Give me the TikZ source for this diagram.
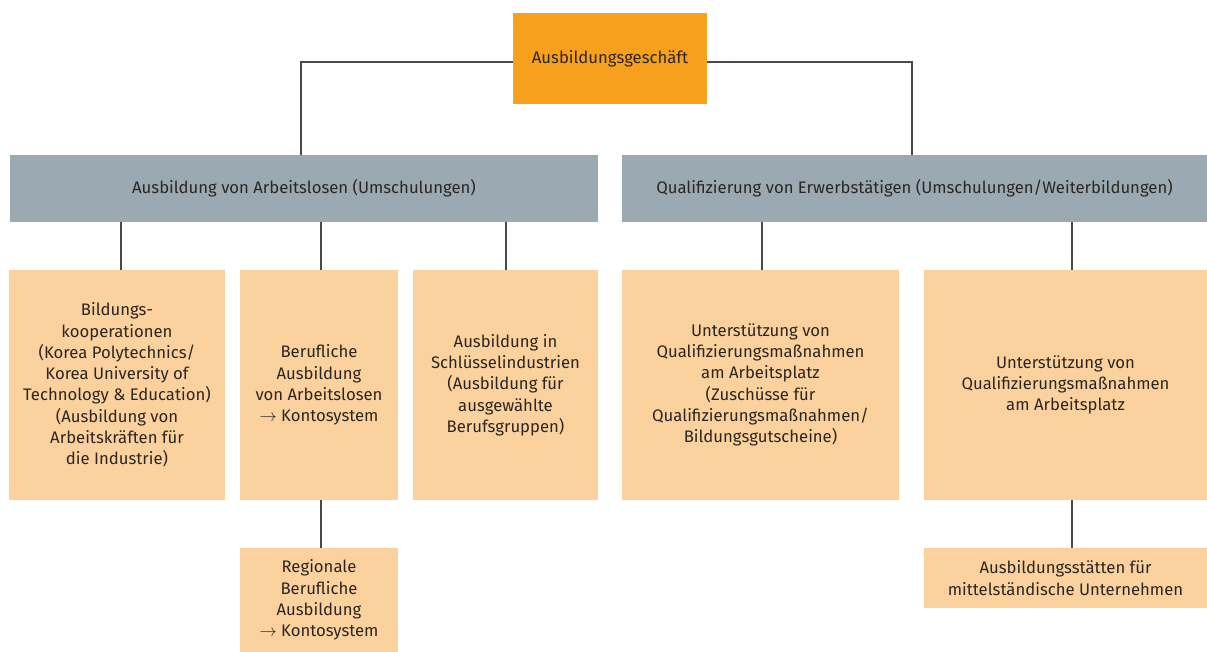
\documentclass[tikz,border=0pt]{standalone}
\usepackage{fontspec}
\setmainfont{Fira Sans}
\usepackage{tikz}

\definecolor{topOrange}{HTML}{F6A01E}
\definecolor{headGrey}{HTML}{9BAAB2}
\definecolor{boxPeach}{HTML}{FBD29E}
\definecolor{lineGrey}{HTML}{4A4A4A}
\definecolor{textDark}{HTML}{2B2622}

\tikzset{
    box/.style={fill=boxPeach, text=textDark, align=center, inner sep=0pt},
    head/.style={fill=headGrey, text=textDark, align=center, inner sep=0pt},
    link/.style={draw=lineGrey, line width=1.3pt}
}
\newcommand{\toarrow}{$\rightarrow$}

\begin{document}
\begin{tikzpicture}[x=1pt, y=-1pt, font=\fontsize{16.7}{21.3}\selectfont]
    \useasboundingbox (0,0) rectangle (1207,652);
    % Top
    \node[fill=topOrange, text=textDark, minimum width=194pt, minimum height=91pt] (Top) at (610,58.5) {Ausbildungsgeschäft};
    % Second Layer
    \node[head, minimum width=588pt, minimum height=67pt] (Head-1) at (304,188.5) {Ausbildung von Arbeitslosen (Umschulungen)};
    \node[head, minimum width=585pt, minimum height=67pt] (Head-2) at (914.5,188.5) {Qualifizierung von Erwerbstätigen (Umschulungen/Weiterbildungen)};
    % Third Layer
    \node[box, minimum width=216pt, minimum height=230pt] (Box-1) at (117,385)
        {Bildungs-\\kooperationen\\(Korea Polytechnics/\\Korea University of\\Technology \& Education)\\(Ausbildung von\\Arbeitskräften für\\die Industrie)};
    \node[box, minimum width=158pt, minimum height=230pt] (Box-2) at (319,385)
        {Berufliche\\Ausbildung\\von Arbeitslosen\\\toarrow{} Kontosystem};
    \node[box, minimum width=185pt, minimum height=230pt] (Box-3) at (505.5,385)
        {Ausbildung in\\Schlüsselindustrien\\(Ausbildung für\\ausgewählte\\Berufsgruppen)};
    \node[box, minimum width=277pt, minimum height=230pt] (Box-4) at (760.5,385)
        {Unterstützung von\\Qualifizierungsmaßnahmen\\am Arbeitsplatz\\(Zuschüsse für\\Qualifizierungsmaßnahmen/\\Bildungsgutscheine)};
    \node[box, minimum width=283pt, minimum height=230pt] (Box-5) at (1065.5,385)
        {Unterstützung von\\Qualifizierungsmaßnahmen\\am Arbeitsplatz};
    % Fourth Layer
    \node[box, minimum width=158pt, minimum height=104pt] (Box-6) at (319,600)
        {Regionale\\Berufliche\\Ausbildung\\\toarrow{} Kontosystem};
    \node[box, minimum width=283pt, minimum height=60pt] (Box-7) at (1065.5,578)
        {Ausbildungsstätten für\\mittelständische Unternehmen};
    % Lines
    \draw[link] ([yshift=-3.5pt]Top.west) -| ([xshift=-3pt]Head-1.north);
    \draw[link] ([yshift=-3.5pt]Top.east) -| ([xshift=-2.5pt]Head-2.north);
    \foreach \i/\dx in {1/4,2/2,3/0.5} {
        \draw[link] ([xshift=\dx pt]Box-\i.north) -- ([xshift=\dx pt]Box-\i.north |- Head-1.south);
    }
    \foreach \i/\dx in {4/1.5,5/6.5} {
        \draw[link] ([xshift=\dx pt]Box-\i.north) -- ([xshift=\dx pt]Box-\i.north |- Head-2.south);
    }
    \draw[link] ([xshift=2pt]Box-2.south) -- ([xshift=2pt]Box-2.south |- Box-6.north);
    \draw[link] ([xshift=6.5pt]Box-5.south) -- ([xshift=6.5pt]Box-5.south |- Box-7.north);
\end{tikzpicture}
\end{document}
